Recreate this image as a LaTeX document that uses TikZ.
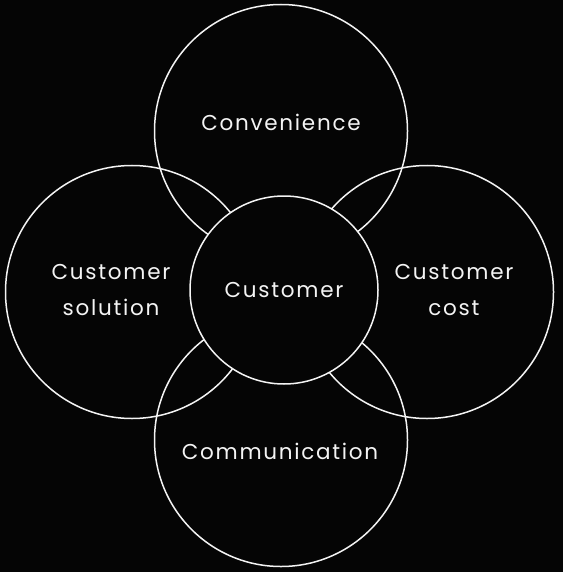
\documentclass[tikz,border=0pt]{standalone}
\usepackage{fontspec}
\newfontfamily\labelfont[LetterSpace=8]{Poppins}
\usetikzlibrary{positioning}
\definecolor{Ink}{HTML}{050505}
\definecolor{Line}{HTML}{F4F4F4}

\begin{document}
\begin{tikzpicture}[
  x=1pt,y=-1pt,
  every node/.style={font=\labelfont\fontsize{21.5}{36}\selectfont,text=Line,align=center},
  ring/.style={circle,draw=Line,line width=1.5pt,minimum size=253pt,inner sep=0pt},
  hub/.style={circle,draw=Line,fill=Ink,line width=1.5pt,minimum size=188pt,inner sep=0pt}
]
  \fill[Ink] (0,0) rectangle (563,572);
  \node[ring] (convenience) at (281,131) {};
  \node[ring] (solution) at (132,292) {};
  \node[ring] (cost) at (427,292) {};
  \node[ring] (communication) at (281,440) {};
  \node[hub] (customer) at (284,290) {Customer};
  \node (convtext) at (281,122) {Convenience};
  \node (soltext) at (111,290) {Customer\\solution};
  \node (costtext) at (454,290) {Customer\\cost};
  \node (commtext) at (280,451) {Communication};
\end{tikzpicture}
\end{document}
